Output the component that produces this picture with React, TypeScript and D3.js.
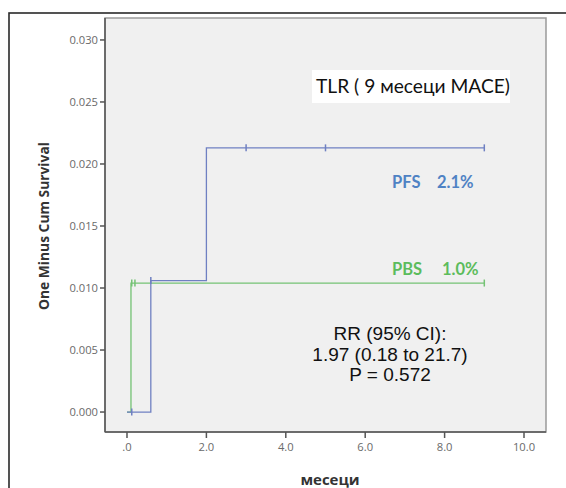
import React from "react";
import * as d3 from "d3";

const W = 566;
const H = 488;

// Data
const xTicks = [0, 2, 4, 6, 8, 10];
const xTickLabels = [".0", "2.0", "4.0", "6.0", "8.0", "10.0"];
const yTicks = [0, 0.005, 0.01, 0.015, 0.02, 0.025, 0.03];
const yTickLabels = ["0.000", "0.005", "0.010", "0.015", "0.020", "0.025", "0.030"];

// PFS step function (time, cumulative incidence)
const pfsTimes = [0, 0.6, 2.0, 9.0];
const pfsValues = [0, 0.0106, 0.0213, 0.0213];
const pfsCensorTimes = [0.12, 0.6, 3.0, 5.0, 9.0];
const pfsCensorValues = [0, 0.0106, 0.0213, 0.0213, 0.0213];

// PBS step function
const pbsTimes = [0, 0.1, 9.0];
const pbsValues = [0, 0.0104, 0.0104];
const pbsCensorTimes = [0.12, 0.2, 9.0];
const pbsCensorValues = [0.0104, 0.0104, 0.0104];

const PFS_COLOR = "#6f80c2";
const PBS_COLOR = "#74c274";

export default function App() {
  const plot = { left: 105, right: 546, top: 18, bottom: 432 };
  const x = d3.scaleLinear().domain([-0.554, 10.554]).range([plot.left, plot.right]);
  const y = d3.scaleLinear().domain([-0.00161, 0.03177]).range([plot.bottom, plot.top]);

  const stepLine = d3
    .line<[number, number]>()
    .x((d) => x(d[0]))
    .y((d) => y(d[1]))
    .curve(d3.curveStepAfter);

  const pfsPts: [number, number][] = pfsTimes.map((t, i) => [t, pfsValues[i]]);
  const pbsPts: [number, number][] = pbsTimes.map((t, i) => [t, pbsValues[i]]);

  const censor = (t: number, v: number, color: string, key: string) => (
    <line key={key} x1={x(t)} x2={x(t)} y1={y(v) - 3.5} y2={y(v) + 3.5} stroke={color} strokeWidth={1.5} />
  );

  const tickFont = "'Open Sans', 'Noto Sans', sans-serif";

  return (
    <svg width={W} height={H} style={{ position: "absolute", left: 0, top: 0, background: "#fff" }}>
      {/* outer frame */}
      <rect x={9} y={13} width={700} height={600} fill="#fff" stroke="#2a2a2a" strokeWidth={1.6} />
      {/* plot area */}
      <rect
        x={plot.left}
        y={plot.top}
        width={plot.right - plot.left}
        height={plot.bottom - plot.top}
        fill="#f0f0f0"
        stroke="#9a9a9a"
        strokeWidth={1.5}
      />
      <line x1={plot.left} x2={plot.left} y1={plot.top} y2={plot.bottom} stroke="#555" strokeWidth={1.5} />
      <line x1={plot.left} x2={plot.right} y1={plot.bottom} y2={plot.bottom} stroke="#555" strokeWidth={1.5} />

      {/* y ticks */}
      {yTicks.map((t, i) => (
        <g key={"yt" + i}>
          <line x1={plot.left - 5} x2={plot.left} y1={y(t)} y2={y(t)} stroke="#555" strokeWidth={1.5} />
          <text
            x={plot.left - 7}
            y={y(t)}
            dy="0.35em"
            textAnchor="end"
            fontFamily={tickFont}
            fontSize={11.2}
            fill="#6a6a6a"
          >
            {yTickLabels[i]}
          </text>
        </g>
      ))}

      {/* x ticks */}
      {xTicks.map((t, i) => (
        <g key={"xt" + i}>
          <line x1={x(t)} x2={x(t)} y1={plot.bottom} y2={plot.bottom + 6} stroke="#555" strokeWidth={1.5} />
          <text
            x={x(t)}
            y={plot.bottom + 19}
            textAnchor="middle"
            fontFamily={tickFont}
            fontSize={11.2}
            fill="#6a6a6a"
          >
            {xTickLabels[i]}
          </text>
        </g>
      ))}

      {/* axis titles */}
      <text
        transform={`translate(49, 226) rotate(-90)`}
        textAnchor="middle"
        fontFamily={tickFont}
        fontWeight="bold"
        fontSize={13.8}
        fill="#333"
      >
        One Minus Cum Survival
      </text>
      <text
        x={330}
        y={485}
        textAnchor="middle"
        fontFamily={tickFont}
        fontWeight="bold"
        fontSize={15}
        fill="#333"
      >
        месеци
      </text>

      {/* survival lines */}
      <path d={stepLine(pbsPts) || ""} fill="none" stroke={PBS_COLOR} strokeWidth={1.3} />
      <path d={stepLine(pfsPts) || ""} fill="none" stroke={PFS_COLOR} strokeWidth={1.3} />
      {pbsCensorTimes.map((t, i) => censor(t, pbsCensorValues[i], PBS_COLOR, "pbc" + i))}
      {pfsCensorTimes.map((t, i) => censor(t, pfsCensorValues[i], PFS_COLOR, "pfc" + i))}

      {/* title box */}
      <rect x={312} y={70} width={198} height={33} fill="#fff" />
      <text x={413} y={93} textAnchor="middle" fontFamily="Lato, 'Open Sans', sans-serif" fontSize={19.2} fill="#111">
        TLR ( 9 месеци MACE)
      </text>

      {/* series labels */}
      <text x={392} y={188} fontFamily="Lato, 'Open Sans', sans-serif" fontWeight="bold" fontSize={16.5} fill="#4f82c4">
        PFS
        <tspan x={437}>2.1%</tspan>
      </text>
      <text x={392} y={275} fontFamily="Lato, 'Open Sans', sans-serif" fontWeight="bold" fontSize={16.5} fill="#5cbc5c">
        PBS
        <tspan x={442}>1.0%</tspan>
      </text>

      {/* stats */}
      <g fontFamily="'Liberation Sans', Arial, sans-serif" fontSize={19} fill="#111" textAnchor="middle">
        <text x={390} y={340}>RR (95% CI):</text>
        <text x={390} y={361}>1.97 (0.18 to 21.7)</text>
        <text x={390} y={381}>P = 0.572</text>
      </g>
    </svg>
  );
}
